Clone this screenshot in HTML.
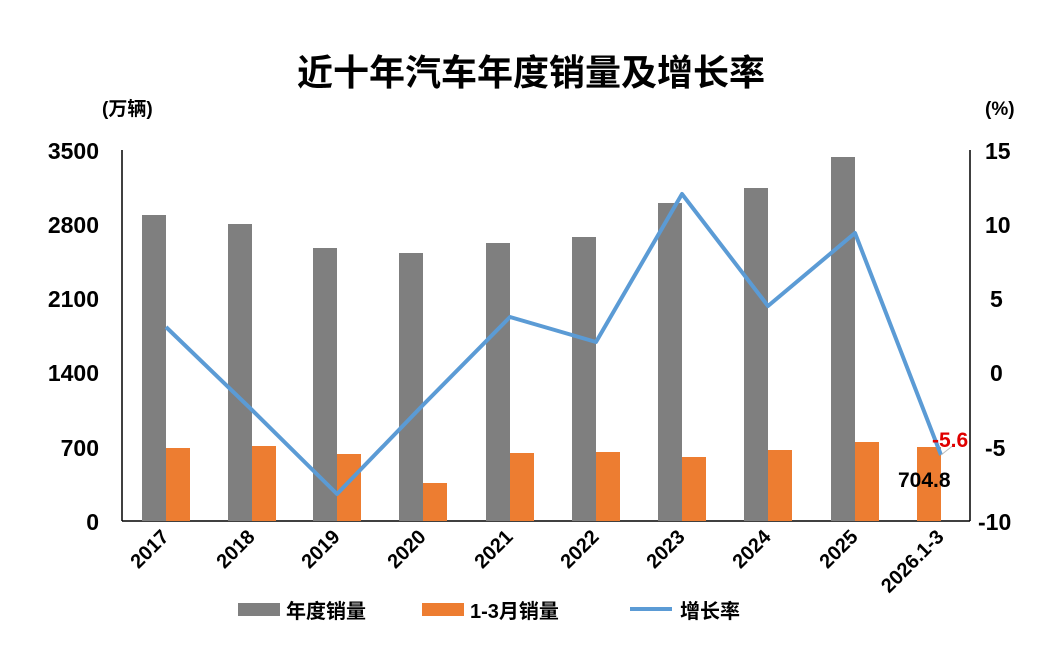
<!DOCTYPE html>
<html><head><meta charset="utf-8"><style>
body{margin:0;background:#fff;}
svg text{font-family:"Liberation Sans","Noto Sans CJK SC",sans-serif;font-weight:bold;}
</style></head><body>
<svg width="1051" height="641" viewBox="0 0 1051 641" xmlns="http://www.w3.org/2000/svg">
<rect width="1051" height="641" fill="#fff"/>
<text x="531" y="85" text-anchor="middle" font-size="36" fill="#000">近十年汽车年度销量及增长率</text>
<text x="102" y="115" font-size="19" fill="#000">(万辆)</text>
<text x="985" y="115" font-size="19" fill="#000">(%)</text>
<g font-size="23" fill="#000" text-anchor="end">
<text x="99" y="159">3500</text><text x="99" y="233">2800</text><text x="99" y="307">2100</text>
<text x="99" y="381">1400</text><text x="99" y="456">700</text><text x="99" y="530">0</text>
</g>
<g font-size="23" fill="#000" text-anchor="start">
<text x="985" y="159">15</text><text x="985" y="233">10</text><text x="990" y="307">5</text>
<text x="990" y="381">0</text><text x="985" y="456">-5</text><text x="978" y="530">-10</text>
</g>
<line x1="122" y1="150" x2="122" y2="521" stroke="#000" stroke-width="1.5"/>
<line x1="970" y1="150" x2="970" y2="521" stroke="#000" stroke-width="1.5"/>
<line x1="122" y1="521" x2="970" y2="521" stroke="#000" stroke-width="1.5"/>
<g fill="#7f7f7f">
<rect x="142" y="215" width="24" height="306"/><rect x="228" y="224" width="24" height="297"/>
<rect x="313" y="248" width="24" height="273"/><rect x="399" y="253" width="24" height="268"/>
<rect x="486" y="243" width="24" height="278"/><rect x="572" y="237" width="24" height="284"/>
<rect x="658" y="203" width="24" height="318"/><rect x="744" y="188" width="24" height="333"/>
<rect x="831" y="157" width="24" height="364"/>
</g>
<g fill="#ed7d31">
<rect x="166" y="448" width="24" height="73"/><rect x="252" y="446" width="24" height="75"/>
<rect x="337" y="454" width="24" height="67"/><rect x="423" y="483" width="24" height="38"/>
<rect x="510" y="453" width="24" height="68"/><rect x="596" y="452" width="24" height="69"/>
<rect x="682" y="457" width="24" height="64"/><rect x="768" y="450" width="24" height="71"/>
<rect x="855" y="442" width="24" height="79"/><rect x="917" y="447" width="24" height="74"/>
</g>
<polyline fill="none" stroke="#5b9bd5" stroke-width="4" stroke-linejoin="round" points="166,327 252,410 337,494 423,405 510,317 596,342 682,194 768,306 855,233 941,455"/>
<line x1="941" y1="455" x2="955" y2="444" stroke="#bbb" stroke-width="1"/>
<text x="932" y="447" font-size="21" fill="#e00000">-5.6</text>
<text x="898" y="487" font-size="21" fill="#000" font-weight="normal">704.8</text>
<g font-size="20" fill="#000" text-anchor="end">
<text transform="translate(170,538) rotate(-45)">2017</text>
<text transform="translate(256,538) rotate(-45)">2018</text>
<text transform="translate(341,538) rotate(-45)">2019</text>
<text transform="translate(427,538) rotate(-45)">2020</text>
<text transform="translate(514,538) rotate(-45)">2021</text>
<text transform="translate(600,538) rotate(-45)">2022</text>
<text transform="translate(686,538) rotate(-45)">2023</text>
<text transform="translate(772,538) rotate(-45)">2024</text>
<text transform="translate(859,538) rotate(-45)">2025</text>
<text transform="translate(945,538) rotate(-45)">2026.1-3</text>
</g>
<rect x="238" y="603" width="42" height="13" fill="#7f7f7f"/>
<text x="286" y="618" font-size="20" fill="#000">年度销量</text>
<rect x="422" y="603" width="42" height="13" fill="#ed7d31"/>
<text x="470" y="618" font-size="20" fill="#000">1-3月销量</text>
<line x1="630" y1="609" x2="672" y2="609" stroke="#5b9bd5" stroke-width="4"/>
<text x="680" y="618" font-size="20" fill="#000">增长率</text>
</svg>
</body></html>
